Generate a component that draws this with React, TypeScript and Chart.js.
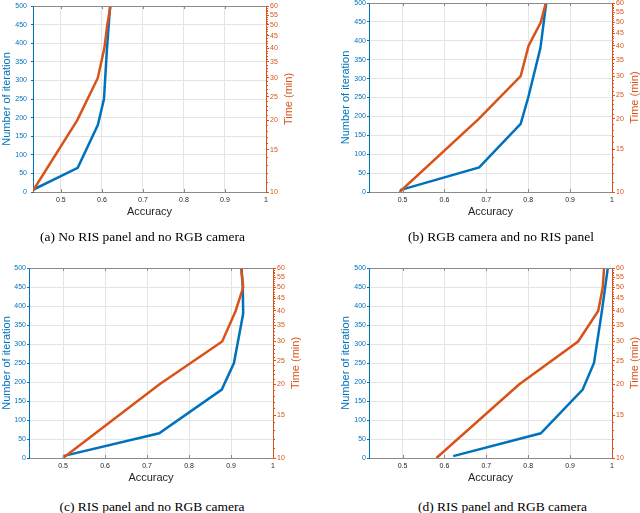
import React, { useEffect, useRef } from "react";
import { Chart, registerables } from "chart.js";
Chart.register(...registerables);

// ---- axis ticks ----
const xTicks = [0.5, 0.6, 0.7, 0.8, 0.9, 1];
const timeTicks = [10, 15, 20, 25, 30, 35, 40, 45, 50, 55, 60];

// ---- panel (a) No RIS panel and no RGB camera ----
const accIterA = [0.43, 0.541, 0.59, 0.605, 0.612, 0.62];
const iterA = [5, 65, 180, 250, 380, 500];
const accTimeA = [0.43, 0.54, 0.59, 0.606, 0.613, 0.621];
const timeA = [10, 20, 30, 40, 50, 60];

// ---- panel (b) RGB camera and no RIS panel ----
const accIterB = [0.494, 0.683, 0.782, 0.8, 0.829, 0.843];
const iterB = [5, 65, 180, 250, 380, 500];
const accTimeB = [0.493, 0.682, 0.782, 0.801, 0.83, 0.842];
const timeB = [10, 20, 30, 40, 50, 60];

// ---- panel (c) RIS panel and no RGB camera ----
const accIterC = [0.5, 0.729, 0.878, 0.907, 0.929, 0.928, 0.925];
const iterC = [5, 65, 180, 250, 380, 450, 500];
const accTimeC = [0.5, 0.729, 0.879, 0.911, 0.929, 0.924];
const timeC = [10, 20, 30, 40, 50, 60];

// ---- panel (d) RIS panel and RGB camera ----
const accIterD = [0.621, 0.83, 0.93, 0.957, 0.975, 0.99];
const iterD = [5, 65, 180, 250, 380, 500];
const accTimeD = [0.581, 0.778, 0.919, 0.967, 0.978, 0.981];
const timeD = [10, 20, 30, 40, 50, 60];

const captions = [
  "(a) No RIS panel and no RGB camera",
  "(b) RGB camera and no RIS panel",
  "(c) RIS panel and no RGB camera",
  "(d) RIS panel and RGB camera",
];

const BLUE = "#0072BD";
const ORANGE = "#D95319";
const GRID = "#e4e4e4";
const AXIS_GRAY = "#8a8a8a";
const TEXT = "#262626";
const SANS = '"Liberation Sans", Arial, sans-serif';

type Layout = {
  canvasLeft: number;
  canvasTop: number;
  plotLeft: number;
  plotRight: number;
  plotTop: number;
  plotBottom: number;
  leftW: number;
  rightW: number;
  labelGap: number;
  xMin: number;
  capX: number;
  capY: number;
};

const layouts: Layout[] = [
  { canvasLeft: 0, canvasTop: 0, plotLeft: 33, plotRight: 266, plotTop: 6, plotBottom: 192, leftW: 33, rightW: 30, labelGap: 6, xMin: 0.432, capX: 142.5, capY: 237 },
  { canvasLeft: 339, canvasTop: 0, plotLeft: 369, plotRight: 612, plotTop: 3, plotBottom: 192, leftW: 30, rightW: 28, labelGap: 3, xMin: 0.42, capX: 501, capY: 237 },
  { canvasLeft: 0, canvasTop: 240, plotLeft: 29, plotRight: 273, plotTop: 268, plotBottom: 458, leftW: 29, rightW: 30, labelGap: 3, xMin: 0.419, capX: 152, capY: 507 },
  { canvasLeft: 339, canvasTop: 240, plotLeft: 369, plotRight: 612, plotTop: 268, plotBottom: 458, leftW: 30, rightW: 28, labelGap: 3, xMin: 0.42, capX: 502.5, capY: 507 },
];

const series = [
  { accIter: accIterA, iter: iterA, accTime: accTimeA, time: timeA },
  { accIter: accIterB, iter: iterB, accTime: accTimeB, time: timeB },
  { accIter: accIterC, iter: iterC, accTime: accTimeC, time: timeC },
  { accIter: accIterD, iter: iterD, accTime: accTimeD, time: timeD },
];

const X_AXIS_H = 27;

const decor = {
  id: "decor",
  afterDraw(chart: any) {
    const { ctx, chartArea: ca, scales } = chart;
    ctx.save();
    ctx.lineWidth = 1;
    // top border
    ctx.strokeStyle = AXIS_GRAY;
    ctx.beginPath();
    ctx.moveTo(ca.left, Math.round(ca.top) + 0.5);
    ctx.lineTo(ca.right, Math.round(ca.top) + 0.5);
    ctx.stroke();
    // inner x ticks on top and bottom
    for (const v of xTicks) {
      if (v >= 1) continue;
      const px = Math.round(scales.x.getPixelForValue(v)) + 0.5;
      ctx.beginPath();
      ctx.moveTo(px, ca.top);
      ctx.lineTo(px, ca.top + 3);
      ctx.moveTo(px, ca.bottom);
      ctx.lineTo(px, ca.bottom - 3);
      ctx.stroke();
    }
    // minor ticks on log axis
    ctx.strokeStyle = ORANGE;
    for (let t = 11; t < 60; t++) {
      if (timeTicks.includes(t)) continue;
      const py = Math.round(scales.y2.getPixelForValue(t)) + 0.5;
      ctx.beginPath();
      ctx.moveTo(ca.right, py);
      ctx.lineTo(ca.right + 2, py);
      ctx.stroke();
    }
    // right title, reads bottom-to-top
    ctx.translate(ca.right + 23, (ca.top + ca.bottom) / 2);
    ctx.rotate(-Math.PI / 2);
    ctx.fillStyle = ORANGE;
    ctx.font = `11px ${SANS}`;
    ctx.textAlign = "center";
    ctx.textBaseline = "middle";
    ctx.fillText("Time (min)", 0, 0);
    ctx.restore();
  },
};

function zeroPad(s: any) {
  s.paddingLeft = 0;
  s.paddingRight = 0;
  s.paddingTop = 0;
  s.paddingBottom = 0;
}

function Panel({ idx }: { idx: number }) {
  const ref = useRef<HTMLCanvasElement>(null);
  const L = layouts[idx];
  const S = series[idx];
  const canvasRight = Math.min(640, L.plotRight + L.rightW);
  const width = canvasRight - L.canvasLeft;
  const height = L.plotBottom + X_AXIS_H - L.canvasTop;

  useEffect(() => {
    const canvas = ref.current!;
    const chart = new Chart(canvas, {
      type: "line",
      data: {
        datasets: [
          {
            label: "Time",
            data: S.accTime.map((a, i) => ({ x: a, y: S.time[i] })),
            borderColor: ORANGE,
            borderWidth: 2.5,
            pointRadius: 0,
            fill: false,
            tension: 0,
            yAxisID: "y2",
            order: 0,
          },
          {
            label: "Iteration",
            data: S.accIter.map((a, i) => ({ x: a, y: S.iter[i] })),
            borderColor: BLUE,
            borderWidth: 2.5,
            pointRadius: 0,
            fill: false,
            tension: 0,
            yAxisID: "y",
            order: 1,
          },
        ],
      },
      options: {
        animation: false,
        responsive: false,
        devicePixelRatio: 1,
        layout: {
          padding: {
            top: L.plotTop - L.canvasTop,
            left: L.plotLeft - L.canvasLeft - L.leftW,
            right: 0,
            bottom: 0,
          },
        },
        plugins: {
          legend: { display: false },
          tooltip: { enabled: false },
          title: { display: false },
        },
        scales: {
          x: {
            type: "linear",
            position: "bottom",
            min: L.xMin,
            max: 1,
            afterBuildTicks: (s: any) => {
              s.ticks = xTicks.map((v) => ({ value: v }));
            },
            afterFit: (s: any) => {
              s.height = X_AXIS_H;
              zeroPad(s);
            },
            ticks: {
              color: TEXT,
              font: { family: SANS, size: 7 },
              padding: 4,
              maxRotation: 0,
              autoSkip: false,
              callback: (v: any) => (Number(v) === 1 ? "1" : Number(v).toFixed(1)),
            },
            grid: { color: GRID, drawTicks: false, lineWidth: 1 },
            border: { color: AXIS_GRAY, width: 1 },
            title: {
              display: true,
              text: "Accuracy",
              color: TEXT,
              font: { family: SANS, size: 11 },
              padding: 0,
            },
          },
          y: {
            type: "linear",
            position: "left",
            min: 0,
            max: 500,
            afterFit: (s: any) => {
              s.width = L.leftW;
              zeroPad(s);
            },
            ticks: {
              stepSize: 50,
              color: BLUE,
              font: { family: SANS, size: 7 },
              padding: L.labelGap - 2,
            },
            grid: { color: GRID, tickColor: BLUE, tickLength: 2, lineWidth: 1 },
            border: { color: BLUE, width: 1 },
            title: {
              display: true,
              text: "Number of iteration",
              color: BLUE,
              font: { family: SANS, size: 11 },
              padding: 0,
            },
          },
          y2: {
            type: "logarithmic",
            position: "right",
            min: 10,
            max: 60,
            afterBuildTicks: (s: any) => {
              s.ticks = timeTicks.map((v) => ({ value: v }));
            },
            afterFit: (s: any) => {
              s.width = canvasRight - L.plotRight;
              zeroPad(s);
            },
            ticks: {
              color: ORANGE,
              font: { family: SANS, size: 7 },
              padding: 1,
              autoSkip: false,
              callback: (v: any) => String(v),
            },
            grid: { drawOnChartArea: false, color: ORANGE, tickColor: ORANGE, tickLength: 3 },
            border: { color: ORANGE, width: 1 },
          },
        },
      } as any,
      plugins: [decor],
    });
    return () => chart.destroy();
  }, []);

  return (
    <canvas
      ref={ref}
      width={width}
      height={height}
      style={{
        position: "absolute",
        left: L.canvasLeft,
        top: L.canvasTop,
        width,
        height,
      }}
    />
  );
}

export default function App() {
  useEffect(() => {
    document.body.style.margin = "0";
    document.documentElement.style.overflow = "hidden";
  }, []);
  return (
    <div
      style={{
        position: "fixed",
        left: 0,
        top: 0,
        width: 640,
        height: 513,
        overflow: "hidden",
        background: "#fff",
      }}
    >
      {layouts.map((_, i) => (
        <Panel key={i} idx={i} />
      ))}
      {layouts.map((L, i) => (
        <div
          key={"c" + i}
          style={{
            position: "absolute",
            left: L.capX - 160,
            top: L.capY - 9,
            width: 320,
            height: 18,
            lineHeight: "18px",
            textAlign: "center",
            fontFamily: '"Liberation Serif", "Times New Roman", serif',
            fontSize: 13.5,
            color: "#000",
            whiteSpace: "nowrap",
          }}
        >
          {captions[i]}
        </div>
      ))}
    </div>
  );
}
